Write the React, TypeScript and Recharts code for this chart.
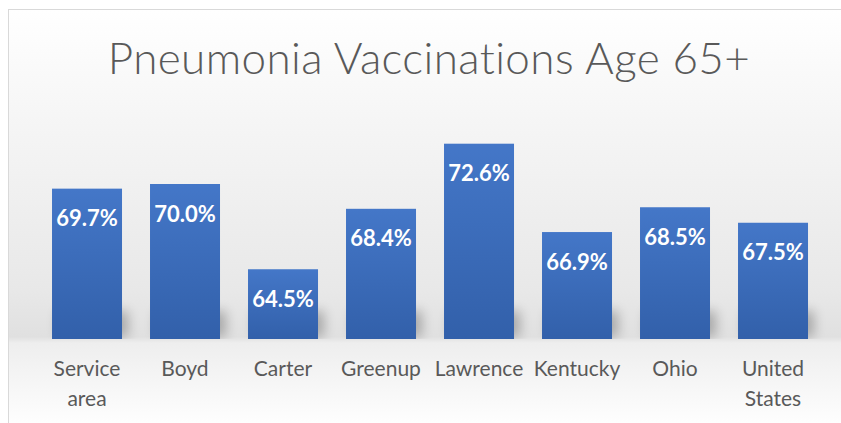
import React from 'react';
import { BarChart, Bar, XAxis, YAxis, LabelList } from 'recharts';

const categories = ['Service area', 'Boyd', 'Carter', 'Greenup', 'Lawrence', 'Kentucky', 'Ohio', 'United States'];
const rates = [69.7, 70.0, 64.5, 68.4, 72.6, 66.9, 68.5, 67.5];

const data = categories.map((name, i) => ({ name, value: rates[i] }));

const FONT = 'Lato, "Open Sans", sans-serif';

const CategoryTick = (props: any) => {
  const { x, y, payload } = props;
  const words = String(payload.value).split(' ');
  return (
    <text x={x} y={y} textAnchor="middle" fill="#595959" fontSize={21} fontFamily={FONT}>
      {words.map((w, i) => (
        <tspan key={w} x={x} dy={i === 0 ? 29 : 30}>
          {w}
        </tspan>
      ))}
    </text>
  );
};

const BarShape = (props: any) => {
  const { x, y, width, height } = props;
  return (
    <g>
      <rect
        x={x + 6}
        y={y + height - 28}
        width={width}
        height={26}
        fill="#000"
        opacity={0.25}
        filter="url(#barShadow)"
      />
      <rect x={x} y={y} width={width} height={height} fill="url(#barFill)" />
    </g>
  );
};

const ValueLabel = (props: any) => {
  const { x, y, width, value } = props;
  return (
    <text
      x={x + width / 2}
      y={y + 29}
      textAnchor="middle"
      dominantBaseline="central"
      fill="#ffffff"
      fontSize={22}
      fontWeight={700}
      fontFamily={FONT}
    >
      {`${Number(value).toFixed(1)}%`}
    </text>
  );
};

export default function App() {
  return (
    <div
      style={{
        position: 'fixed',
        left: 8,
        top: 9,
        width: 850,
        height: 420,
        boxSizing: 'border-box',
        borderTop: '1px solid #d9d9d9',
        borderLeft: '1px solid #d9d9d9',
        background:
          'linear-gradient(to bottom, #ffffff 0%, #f7f7f7 22%, #e8e8e8 67%, #e0e0e0 78%, #eeeeee 79.5%, #ffffff 100%)',
      }}
    >
      <div
        style={{
          position: 'absolute',
          left: 0,
          top: 21,
          width: 840,
          textAlign: 'center',
          fontFamily: FONT,
          fontWeight: 300,
          fontSize: 44,
          letterSpacing: 0.4,
          color: '#595959',
        }}
      >
        Pneumonia Vaccinations Age 65+
      </div>
      <BarChart
        width={833}
        height={415}
        data={data}
        margin={{ top: 113, right: 19, bottom: 0, left: 30 }}
        barCategoryGap="14.3%"
        style={{ position: 'absolute', left: -1, top: -1 }}
      >
        <defs>
          <linearGradient id="barFill" x1="0" y1="0" x2="0" y2="1">
            <stop offset="0%" stopColor="#4477c8" />
            <stop offset="100%" stopColor="#3260aa" />
          </linearGradient>
          <filter id="barShadow" x="-30%" y="-60%" width="160%" height="220%">
            <feGaussianBlur stdDeviation="6" />
          </filter>
        </defs>
        <YAxis hide domain={[60, 74]} allowDataOverflow />
        <XAxis
          dataKey="name"
          axisLine={false}
          tickLine={false}
          height={85}
          interval={0}
          tick={<CategoryTick />}
        />
        <Bar dataKey="value" shape={<BarShape />} isAnimationActive={false}>
          <LabelList dataKey="value" content={<ValueLabel />} />
        </Bar>
      </BarChart>
    </div>
  );
}
